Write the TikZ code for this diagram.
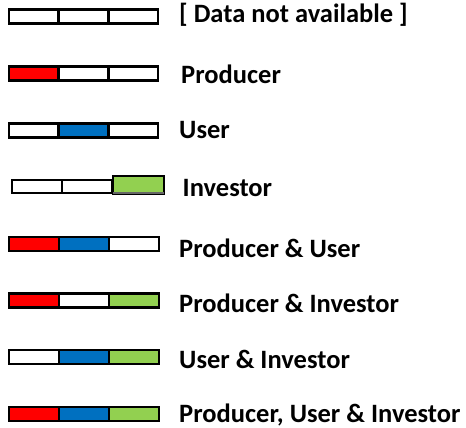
\documentclass[tikz,border=0pt]{standalone}
\usepackage{fontspec}
\setmainfont{Carlito}
\definecolor{prodred}{HTML}{FF0000}
\definecolor{userblue}{HTML}{0070C0}
\definecolor{invgreen}{HTML}{92D050}
\begin{document}
\begin{tikzpicture}[x=1pt,y=-1pt,
  cell/.style={draw=black,line width=2.6pt,rectangle,inner sep=0pt,minimum width=49.67pt,minimum height=14.3pt,fill=white},
  lab/.style={anchor=base west,inner sep=0pt,font=\fontsize{26.5}{30}\selectfont\bfseries}]
\useasboundingbox (0,0) rectangle (466,428);
% row 1
\node[cell] (r1a) at (33.8,16.5) {};
\node[cell] (r1b) at (83.5,16.5) {};
\node[cell] (r1c) at (133.2,16.5) {};
\node[lab] (l1) at (179,23) {[ Data not available ]};
% row 2
\node[cell,fill=prodred] (r2a) at (33.8,73.5) {};
\node[cell] (r2b) at (83.5,73.5) {};
\node[cell] (r2c) at (133.2,73.5) {};
\node[lab] (l2) at (181,84) {Producer};
% row 3
\node[cell] (r3a) at (33.8,130.5) {};
\node[cell,fill=userblue] (r3b) at (83.5,130.5) {};
\node[cell] (r3c) at (133.2,130.5) {};
\node[lab] (l3) at (179,138.5) {User};
% row 4
\node[cell,minimum width=50pt,minimum height=13pt] (r4a) at (37,186.5) {};
\node[cell,minimum width=50pt,minimum height=13pt] (r4b) at (87,186.5) {};
\node[cell,fill=invgreen,minimum width=51pt,minimum height=18pt] (r4c) at (138.5,185) {};
\draw[line width=1.4pt,black!60] ([xshift=1.3pt,yshift=2.5pt]r4c.south west) -- ([xshift=-1.3pt,yshift=2.5pt]r4c.south east);
\node[lab] (l4) at (182.5,196) {Investor};
% row 5
\node[cell,fill=prodred] (r5a) at (34,244) {};
\node[cell,fill=userblue] (r5b) at (84,244) {};
\node[cell] (r5c) at (134,244) {};
\node[lab] (l5) at (179,257) {Producer \& User};
% row 6
\node[cell,fill=prodred] (r6a) at (34,300.5) {};
\node[cell] (r6b) at (84,300.5) {};
\node[cell,fill=invgreen] (r6c) at (134,300.5) {};
\node[lab] (l6) at (179,312) {Producer \& Investor};
% row 7
\node[cell] (r7a) at (34,357) {};
\node[cell,fill=userblue] (r7b) at (84,357) {};
\node[cell,fill=invgreen] (r7c) at (134,357) {};
\node[lab] (l7) at (179,368.5) {User \& Investor};
% row 8
\node[cell,fill=prodred] (r8a) at (34,414) {};
\node[cell,fill=userblue] (r8b) at (84,414) {};
\node[cell,fill=invgreen] (r8c) at (134,414) {};
\node[lab] (l8) at (179,422.8) {Producer, User \& Investor};
\end{tikzpicture}
\end{document}
